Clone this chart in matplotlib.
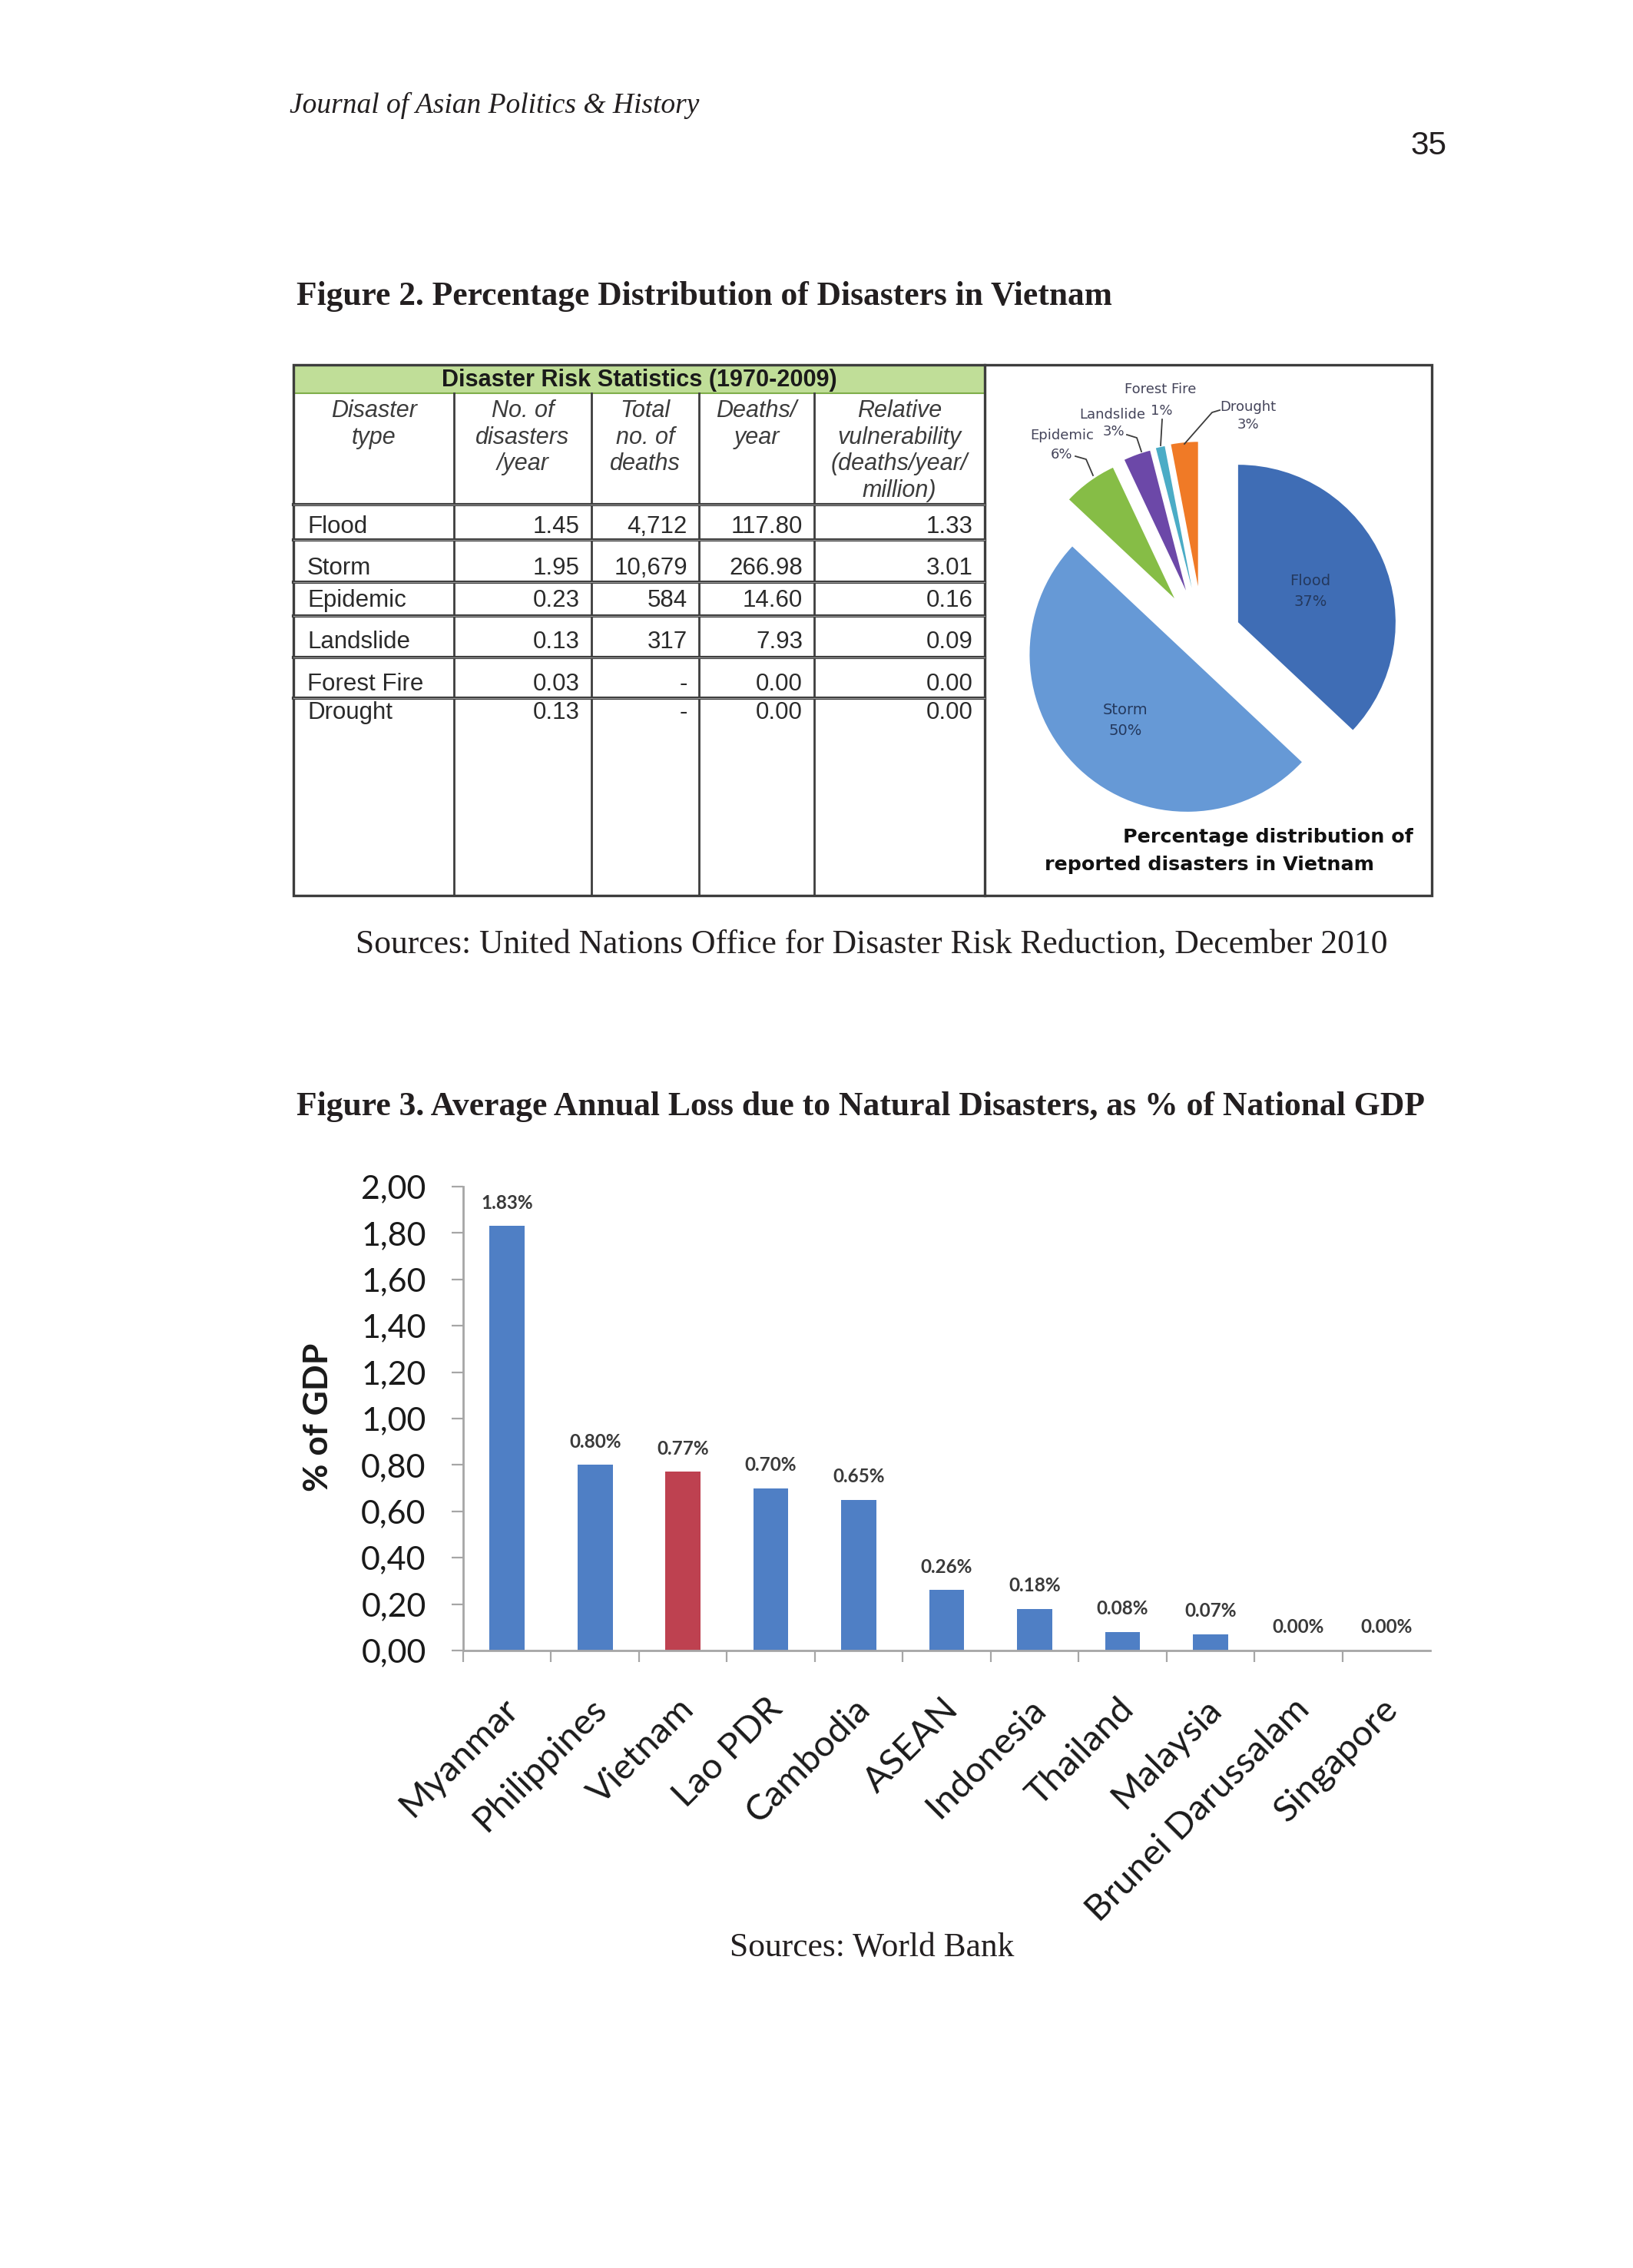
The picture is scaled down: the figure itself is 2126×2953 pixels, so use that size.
import matplotlib
matplotlib.use("Agg")
import matplotlib.pyplot as plt
import matplotlib.transforms as mtransforms
import numpy as np

W, H, DPI = 2126, 2953, 100

# ---------------- data ----------------
journal_name = "Journal of Asian Politics & History"
page_number = "35"
fig2_title = "Figure 2. Percentage Distribution of Disasters in Vietnam"
fig2_source = "Sources: United Nations Office for Disaster Risk Reduction, December 2010"
fig3_title = "Figure 3. Average Annual Loss due to Natural Disasters, as % of National GDP"
fig3_source = "Sources: World Bank"

table_title = "Disaster Risk Statistics (1970-2009)"
table_headers = ["Disaster\ntype", "No. of\ndisasters\n/year", "Total\nno. of\ndeaths",
                 "Deaths/\nyear", "Relative\nvulnerability\n(deaths/year/\nmillion)"]
disaster_types = ["Flood", "Storm", "Epidemic", "Landslide", "Forest Fire", "Drought"]
disasters_per_year = ["1.45", "1.95", "0.23", "0.13", "0.03", "0.13"]
total_deaths = ["4,712", "10,679", "584", "317", "-", "-"]
deaths_per_year = ["117.80", "266.98", "14.60", "7.93", "0.00", "0.00"]
relative_vulnerability = ["1.33", "3.01", "0.16", "0.09", "0.00", "0.00"]

pie_labels = ["Flood", "Storm", "Epidemic", "Landslide", "Forest Fire", "Drought"]
pie_shares = [37, 50, 6, 3, 1, 3]
pie_caption = ["Percentage distribution of", "reported disasters in Vietnam"]

countries = ["Myanmar", "Philippines", "Vietnam", "Lao PDR", "Cambodia", "ASEAN",
             "Indonesia", "Thailand", "Malaysia", "Brunei Darussalam", "Singapore"]
loss_pct_gdp = [1.83, 0.80, 0.77, 0.70, 0.65, 0.26, 0.18, 0.08, 0.07, 0.00, 0.00]
highlight_country = "Vietnam"
y_ticks = [0.00, 0.20, 0.40, 0.60, 0.80, 1.00, 1.20, 1.40, 1.60, 1.80, 2.00]
y_axis_label = "% of GDP"

# ---------------- figure / page ----------------
fig = plt.figure(figsize=(W / DPI, H / DPI), dpi=DPI)
fig.patch.set_facecolor("white")
page = fig.add_axes([0, 0, 1, 1])
page.set_xlim(0, W)
page.set_ylim(H, 0)
page.axis("off")
renderer = fig.canvas.get_renderer()


def fitted(x, y, s, width, **kw):
    t = page.text(x, y, s, **kw)
    bb = t.get_window_extent(renderer=renderer)
    t.set_fontsize(t.get_fontsize() * width / bb.width)
    return t


SERIF = "Liberation Serif"
TXT = "#231f20"

fitted(377, 137, journal_name, 534, family=SERIF, style="italic", fontsize=26,
       ha="left", va="center", color=TXT)
fitted(1883, 190, page_number, 47, family=["Liberation Sans Narrow", "Liberation Sans"],
       fontsize=30, ha="right", va="center", color=TXT)
fitted(386, 386, fig2_title, 1064, family=SERIF, weight="bold", fontsize=28,
       ha="left", va="center", color=TXT)
fitted(1135, 1230, fig2_source, 1343, family=SERIF, fontsize=30,
       ha="center", va="center", color=TXT)
fitted(386, 1441, fig3_title, 1469, family=SERIF, weight="bold", fontsize=28,
       ha="left", va="center", color=TXT)
fitted(1135, 2536, fig3_source, 371, family=SERIF, fontsize=30,
       ha="center", va="center", color=TXT)

# ---------------- table ----------------
col_x = [382, 591, 770, 910, 1060, 1282]
right_edge = 1864
top, green_bot, head_bot, bottom = 475, 512, 657, 1166
row_lines = [703, 758, 802, 856, 909]
row_text_y = [686, 740, 782, 836, 891, 928]
head_line_y = [535, 570, 604, 639]
LINE = "#3d3d3d"
SANS = "Liberation Sans"

page.add_patch(plt.Rectangle((col_x[0], top), col_x[-1] - col_x[0], green_bot - top,
                             facecolor="#c0de98", edgecolor="#7fae4a", lw=1.5, zorder=1))
fitted((col_x[0] + col_x[-1]) / 2, (top + green_bot) / 2 + 1, table_title, 514,
       family=SANS, weight="bold", fontsize=22, ha="center", va="center",
       color="#1a1a1a", zorder=3)

# outer frame
page.add_patch(plt.Rectangle((col_x[0], top), right_edge - col_x[0], bottom - top,
                             facecolor="none", edgecolor=LINE, lw=2.4, zorder=4))
page.plot([col_x[-1], col_x[-1]], [top, bottom], color=LINE, lw=2.4, zorder=4)
for cx in col_x[1:-1]:
    page.plot([cx, cx], [green_bot, bottom], color=LINE, lw=2.0, zorder=4)
for ry in [head_bot] + row_lines:
    page.plot([col_x[0], col_x[-1]], [ry, ry], color=LINE, lw=3.0, zorder=4)
    page.plot([col_x[0], col_x[-1]], [ry, ry], color="#9a9a9a", lw=0.8, zorder=4)

for j, head in enumerate(table_headers):
    xc = (col_x[j] + col_x[j + 1]) / 2
    for k, line in enumerate(head.split("\n")):
        page.text(xc, head_line_y[k], line, family=SANS, style="italic", fontsize=22,
                  ha="center", va="center", color="#3c3c3c")

columns = [disaster_types, disasters_per_year, total_deaths, deaths_per_year,
           relative_vulnerability]
for j, col in enumerate(columns):
    for i, val in enumerate(col):
        if j == 0:
            page.text(col_x[0] + 18, row_text_y[i], val, family=SANS, fontsize=22.5,
                      ha="left", va="center", color="#2a2a2a")
        else:
            page.text(col_x[j + 1] - 15, row_text_y[i], val, family=SANS, fontsize=22.5,
                      ha="right", va="center", color="#2a2a2a")

# ---------------- pie ----------------
axp = fig.add_axes([col_x[-1] / W, 1 - bottom / H, (right_edge - col_x[-1]) / W,
                    (bottom - top) / H])
pie_colors = ["#3f6db5", "#6699d6", "#86bd46", "#6c48a8", "#4bacc6", "#f07a26"]
R = 205
pc = (1566, H - 830)
explode = [50, 30, 63, 65, 66, 67]
wedges, _ = axp.pie(pie_shares, explode=explode, colors=pie_colors, startangle=90,
                    counterclock=False, radius=R, center=pc,
                    wedgeprops=dict(linewidth=0))
for w in wedges[2:]:
    w.set_radius(188)
axp.set_xlim(col_x[-1], right_edge)
axp.set_ylim(H - bottom, H - top)
axp.set_aspect("auto")
axp.axis("off")

PIE_TXT = "#24395e"
for w, name, share, dist in zip(wedges[:2], pie_labels[:2], pie_shares[:2], [0.5, 0.57]):
    th = np.deg2rad((w.theta1 + w.theta2) / 2)
    lx = w.center[0] + dist * R * np.cos(th)
    ly = w.center[1] + dist * R * np.sin(th)
    axp.text(lx, ly + 13, name, family="DejaVu Sans", fontsize=14, ha="center",
             va="center", color=PIE_TXT)
    axp.text(lx, ly - 14, f"{share}%", family="DejaVu Sans", fontsize=14, ha="center",
             va="center", color=PIE_TXT)

small_pos = {  # page coords of name line, pct line
    "Epidemic": ((1383, 567), (1382, 592)),
    "Landslide": ((1448, 540), (1450, 562)),
    "Forest Fire": ((1511, 507), (1512, 535)),
    "Drought": ((1625, 530), (1625, 553)),
}
leaders = {
    "Epidemic": [(1400, 594), (1414, 598), (1423, 619)],
    "Landslide": [(1467, 566), (1480, 570), (1486, 588)],
    "Forest Fire": [(1513, 546), (1511, 580)],
    "Drought": [(1588, 534), (1578, 537), (1542, 578)],
}
SMALL_TXT = "#44445a"
for name, share in zip(pie_labels[2:], pie_shares[2:]):
    (nx, ny), (px, py) = small_pos[name]
    axp.text(nx, H - ny, name, family="DejaVu Sans", fontsize=13, ha="center",
             va="center", color=SMALL_TXT)
    axp.text(px, H - py, f"{share}%", family="DejaVu Sans", fontsize=13, ha="center",
             va="center", color=SMALL_TXT)
    pts = np.array(leaders[name], dtype=float)
    axp.plot(pts[:, 0], H - pts[:, 1], color="#3c3c3c", lw=1.3)

fitted(1840, 1090, pie_caption[0], 379, family="DejaVu Sans", weight="bold", fontsize=16,
       ha="right", va="center", color="#111111")
fitted(1360, 1126, pie_caption[1], 429, family="DejaVu Sans", weight="bold", fontsize=16,
       ha="left", va="center", color="#111111")

# ---------------- bar chart ----------------
x0_px, x1_px, y0_px, y1_px = 603, 1862, 2149, 1545
axb = fig.add_axes([x0_px / W, 1 - y0_px / H, (x1_px - x0_px) / W, (y0_px - y1_px) / H])
xpos = np.arange(len(countries))
bar_colors = ["#be4150" if c == highlight_country else "#4f7fc5" for c in countries]
axb.bar(xpos, loss_pct_gdp, width=0.4, color=bar_colors, linewidth=0, zorder=2)
axb.set_xlim(-0.5, len(countries) - 0.5)
axb.set_ylim(0, y_ticks[-1])
axb.set_facecolor("none")
for s in ["top", "right"]:
    axb.spines[s].set_visible(False)
for s in ["left", "bottom"]:
    axb.spines[s].set_color("#a6a6a6")
    axb.spines[s].set_linewidth(2.0)

axb.set_yticks(y_ticks)
axb.set_yticklabels([f"{v:.2f}".replace(".", ",") for v in y_ticks], family="Lato",
                    fontsize=31, color="#1a1a1a")
axb.tick_params(axis="y", direction="out", length=10.8, width=1.6, color="#a6a6a6", pad=24)

axb.set_xticks(np.arange(len(countries)) - 0.5)
axb.set_xticklabels([])
axb.tick_params(axis="x", which="major", direction="out", length=10.8, width=1.6,
                color="#a6a6a6")
axb.set_xticks(xpos, minor=True)
axb.set_xticklabels(countries, minor=True, rotation=45, ha="right", va="center",
                    rotation_mode="anchor", family="Lato", fontsize=34, color="#1a1a1a")
axb.tick_params(axis="x", which="minor", length=0, pad=50)
offs = mtransforms.ScaledTranslation(8 / DPI, 0, fig.dpi_scale_trans)
for lab in axb.get_xticklabels(minor=True):
    lab.set_transform(lab.get_transform() + offs)

for xi, v in zip(xpos, loss_pct_gdp):
    axb.annotate(f"{v:.2f}%", (xi, v), xytext=(0, 21.6), textcoords="offset points",
                 ha="center", va="center", family="Lato", weight="bold", fontsize=17.5,
                 color="#3a3a3a")

page.text(414, 1845, y_axis_label, rotation=90, family="Lato", weight="bold", fontsize=32,
          ha="center", va="center", color="#1a1a1a")

fig.savefig("out.png", dpi=DPI, facecolor="white")
